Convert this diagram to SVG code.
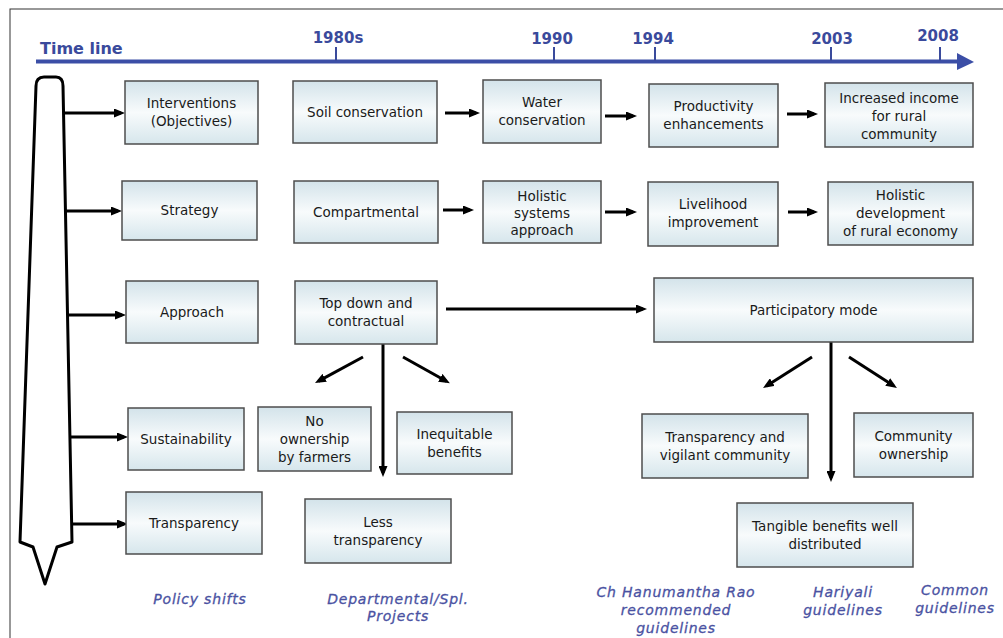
<svg xmlns="http://www.w3.org/2000/svg" width="1003" height="638" viewBox="0 0 1003 638">
<defs>
<linearGradient id="g" x1="0" y1="0" x2="0" y2="1">
<stop offset="0" stop-color="#d3e3ea"/>
<stop offset="0.5" stop-color="#f8fbfc"/>
<stop offset="1" stop-color="#d6e6ec"/>
</linearGradient>
<marker id="ah" markerUnits="userSpaceOnUse" markerWidth="11" markerHeight="9" viewBox="0 0 11 9" refX="7" refY="4.5" orient="auto">
<path d="M0,0 L11,4.5 L0,9 z" fill="#000"/>
</marker>
<style>
.box{fill:url(#g);stroke:#4d4d4d;stroke-width:1.5}
.t{font-family:"DejaVu Sans",sans-serif;font-size:13.5px;fill:#1a1a1a;text-anchor:middle}
.lbl{font-family:"DejaVu Sans",sans-serif;font-size:14px;font-style:italic;letter-spacing:0.8px;fill:#4a52a2;text-anchor:middle;stroke:#4a52a2;stroke-width:0.3}
.yr{font-family:"DejaVu Sans",sans-serif;font-size:15px;font-weight:bold;fill:#3a4a9c;text-anchor:middle}
.tick{stroke:#3a4a9c;stroke-width:2}
.c{stroke:#000;stroke-width:3;fill:none;marker-end:url(#ah)}
</style>
</defs>
<rect x="0" y="0" width="1003" height="638" fill="#fff"/>
<rect x="10" y="9" width="1000" height="640" fill="none" stroke="#333" stroke-width="1"/>

<g id="timeline">
<text x="40" y="54" font-family="DejaVu Sans, sans-serif" font-size="16" font-weight="bold" fill="#3a4a9c">Time line</text>
<line x1="36" y1="61.5" x2="960" y2="61.5" stroke="#3b4ea6" stroke-width="4"/>
<polygon points="957,53 974,62 957,70" fill="#3b4ea6"/>
<line class="tick" x1="336" y1="47" x2="336" y2="61"/>
<line class="tick" x1="554" y1="47" x2="554" y2="61"/>
<line class="tick" x1="655" y1="47" x2="655" y2="61"/>
<line class="tick" x1="831" y1="47" x2="831" y2="61"/>
<line class="tick" x1="940" y1="47" x2="940" y2="61"/>
<text class="yr" x="338" y="43">1980s</text>
<text class="yr" x="552" y="44">1990</text>
<text class="yr" x="653" y="44">1994</text>
<text class="yr" x="832" y="44">2003</text>
<text class="yr" x="938" y="41">2008</text>
</g>

<g id="pillar">
<path d="M36,86 Q36,77 44,77 L56,77 Q63,77 63,86 L72,542 L57,547 L45,584 L33,547 L20,542 Z" fill="#fff" stroke="#000" stroke-width="3" stroke-linejoin="round"/>
</g>

<g id="connectors">
<line class="c" x1="63" y1="113" x2="121" y2="113"/>
<line class="c" x1="65" y1="211" x2="118" y2="211"/>
<line class="c" x1="67" y1="315" x2="122" y2="315"/>
<line class="c" x1="70" y1="437" x2="124" y2="437"/>
<line class="c" x1="72" y1="524" x2="124" y2="524"/>
<line class="c" x1="445" y1="113" x2="476" y2="113"/>
<line class="c" x1="605" y1="116" x2="633" y2="116"/>
<line class="c" x1="787" y1="114" x2="814" y2="114"/>
<line class="c" x1="443" y1="210" x2="470" y2="210"/>
<line class="c" x1="605" y1="212" x2="633" y2="212"/>
<line class="c" x1="788" y1="212" x2="814" y2="212"/>
<line class="c" x1="446" y1="309" x2="643" y2="309"/>
<line class="c" x1="383" y1="344" x2="383" y2="473"/>
<line class="c" x1="363" y1="357" x2="318.5" y2="381.1"/>
<line class="c" x1="403" y1="357" x2="446.4" y2="381.2"/>
<line class="c" x1="831" y1="342" x2="831" y2="478"/>
<line class="c" x1="812" y1="357" x2="766.4" y2="385.9"/>
<line class="c" x1="849" y1="357" x2="893.6" y2="385.8"/>
</g>

<g id="interventions"><rect class="box" x="125" y="81" width="133" height="63"/>
<text class="t" x="191.5" y="108">Interventions</text><text class="t" x="191.5" y="126">(Objectives)</text></g>
<g id="soil"><rect class="box" x="293" y="81" width="144" height="62"/>
<text class="t" x="365" y="117">Soil conservation</text></g>
<g id="water"><rect class="box" x="483" y="80" width="118" height="63"/>
<text class="t" x="542" y="107">Water</text><text class="t" x="542" y="125">conservation</text></g>
<g id="productivity"><rect class="box" x="649" y="84" width="129" height="63"/>
<text class="t" x="713.5" y="111">Productivity</text><text class="t" x="713.5" y="129">enhancements</text></g>
<g id="income"><rect class="box" x="825" y="83" width="148" height="64"/>
<text class="t" x="899" y="103">Increased income</text><text class="t" x="899" y="121">for rural</text><text class="t" x="899" y="139">community</text></g>

<g id="strategy"><rect class="box" x="122" y="181" width="135" height="59"/>
<text class="t" x="189.5" y="215">Strategy</text></g>
<g id="compartmental"><rect class="box" x="294" y="181" width="144" height="62"/>
<text class="t" x="366" y="217">Compartmental</text></g>
<g id="holistic-systems"><rect class="box" x="483" y="181" width="118" height="62"/>
<text class="t" x="542" y="201">Holistic</text><text class="t" x="542" y="218">systems</text><text class="t" x="542" y="235">approach</text></g>
<g id="livelihood"><rect class="box" x="648" y="182" width="130" height="64"/>
<text class="t" x="713" y="209">Livelihood</text><text class="t" x="713" y="227">improvement</text></g>
<g id="holistic-dev"><rect class="box" x="828" y="182" width="145" height="63"/>
<text class="t" x="900.5" y="200">Holistic</text><text class="t" x="900.5" y="218">development</text><text class="t" x="900.5" y="236">of rural economy</text></g>

<g id="approach"><rect class="box" x="126" y="281" width="132" height="62"/>
<text class="t" x="192" y="317">Approach</text></g>
<g id="topdown"><rect class="box" x="295" y="281" width="142" height="63"/>
<text class="t" x="366" y="308">Top down and</text><text class="t" x="366" y="326">contractual</text></g>
<g id="participatory"><rect class="box" x="654" y="278" width="319" height="64"/>
<text class="t" x="813.5" y="315">Participatory mode</text></g>

<g id="sustainability"><rect class="box" x="128" y="408" width="116" height="62"/>
<text class="t" x="186" y="444">Sustainability</text></g>
<g id="no-ownership"><rect class="box" x="258" y="407" width="113" height="64"/>
<text class="t" x="314.5" y="426">No</text><text class="t" x="314.5" y="444">ownership</text><text class="t" x="314.5" y="462">by farmers</text></g>
<g id="inequitable"><rect class="box" x="397" y="412" width="115" height="62"/>
<text class="t" x="454.5" y="439">Inequitable</text><text class="t" x="454.5" y="457">benefits</text></g>
<g id="transparency"><rect class="box" x="126" y="492" width="136" height="62"/>
<text class="t" x="194" y="528">Transparency</text></g>
<g id="less-transparency"><rect class="box" x="305" y="499" width="146" height="64"/>
<text class="t" x="378" y="527">Less</text><text class="t" x="378" y="545">transparency</text></g>

<g id="vigilant"><rect class="box" x="642" y="414" width="166" height="64"/>
<text class="t" x="725" y="442">Transparency and</text><text class="t" x="725" y="460">vigilant community</text></g>
<g id="community-ownership"><rect class="box" x="854" y="413" width="119" height="64"/>
<text class="t" x="913.5" y="441">Community</text><text class="t" x="913.5" y="459">ownership</text></g>
<g id="tangible"><rect class="box" x="737" y="503" width="176" height="64"/>
<text class="t" x="825" y="531">Tangible benefits well</text><text class="t" x="825" y="549">distributed</text></g>

<g id="labels">
<text class="lbl" x="200" y="604">Policy shifts</text>
<text class="lbl" x="398" y="604">Departmental/Spl.</text>
<text class="lbl" x="398" y="621">Projects</text>
<text class="lbl" x="676" y="597">Ch Hanumantha Rao</text>
<text class="lbl" x="676" y="615">recommended</text>
<text class="lbl" x="676" y="633">guidelines</text>
<text class="lbl" x="843" y="597">Hariyali</text>
<text class="lbl" x="843" y="615">guidelines</text>
<text class="lbl" x="955" y="595">Common</text>
<text class="lbl" x="955" y="613">guidelines</text>
</g>
</svg>
